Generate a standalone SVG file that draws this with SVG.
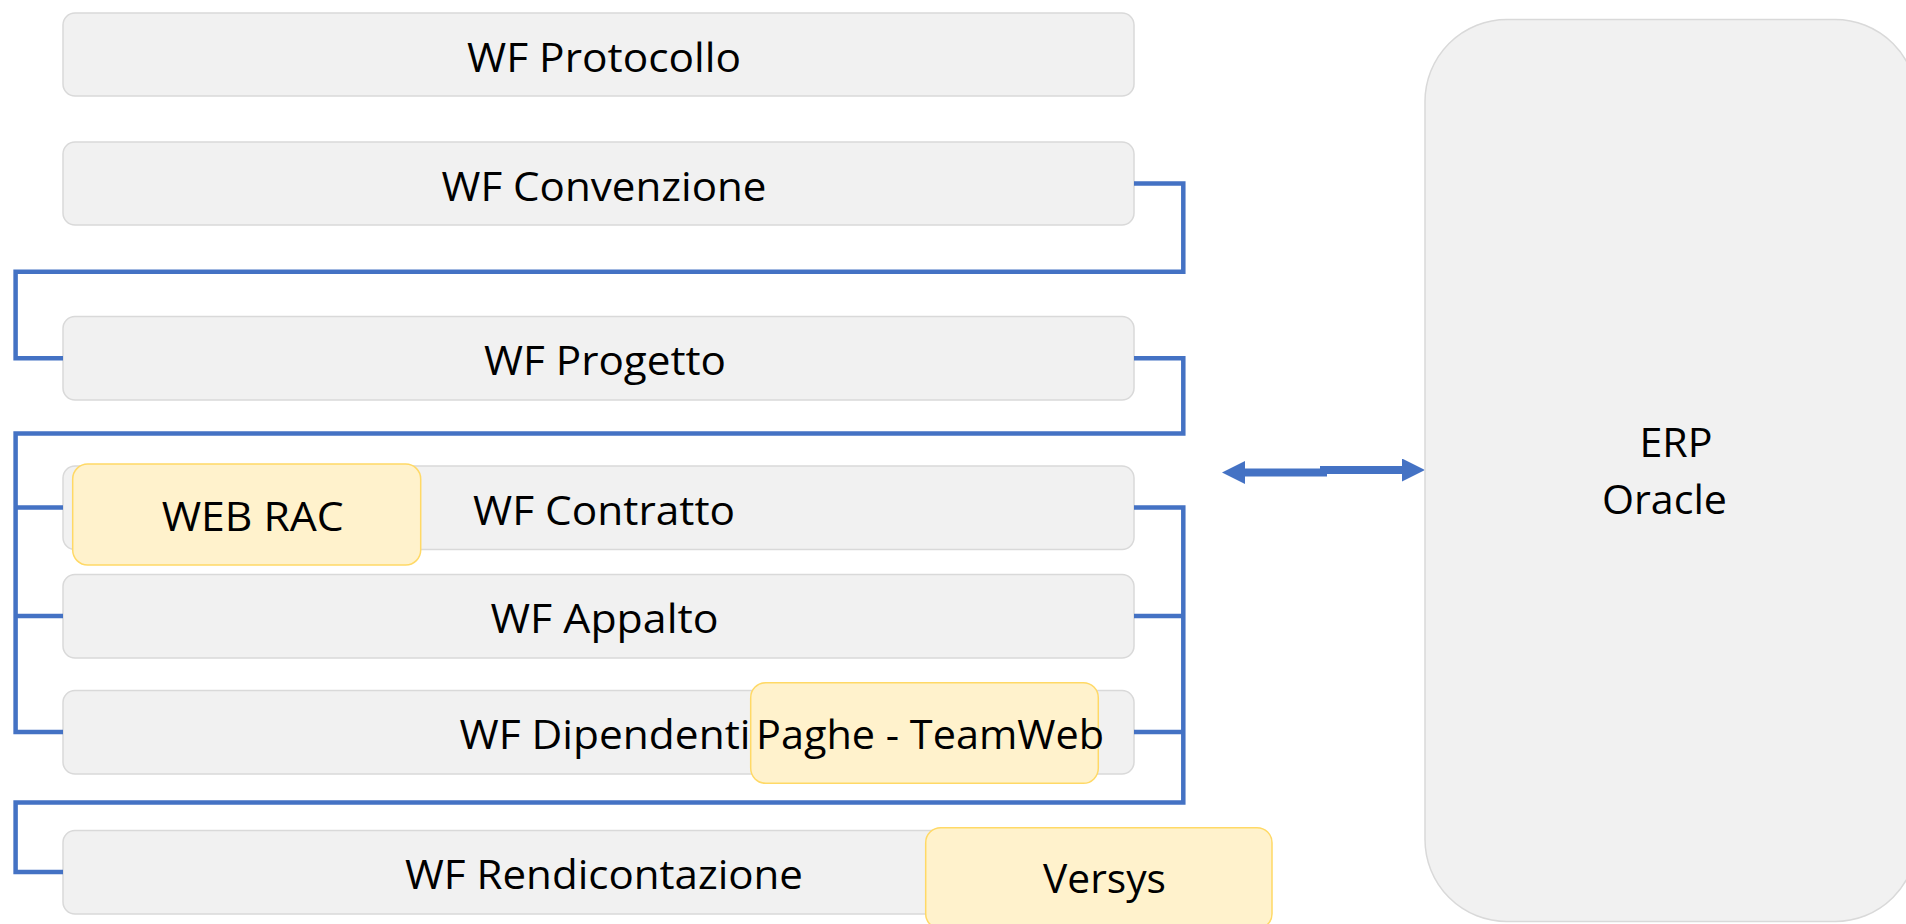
<svg xmlns="http://www.w3.org/2000/svg" width="1906" height="924" viewBox="0 0 1906 924">
  <style>
    .box { fill: #f1f1f1; stroke: #d9d9d9; stroke-width: 1.5; }
    .ybox { fill: #fff2cc; stroke: #ffd966; stroke-width: 1.5; }
    .lbl { font-family: "Open Sans", "Liberation Sans", sans-serif; font-size: 40px; fill: #000; text-anchor: middle; }
    .conn { fill: none; stroke: #4472c4; stroke-width: 4.5; stroke-linejoin: miter; }
    .arrow { fill: none; stroke: #4472c4; stroke-width: 8; }
  </style>
  <defs>
    <marker id="head" viewBox="0 0 23 23" refX="0" refY="11.5" markerWidth="23" markerHeight="23" markerUnits="userSpaceOnUse" orient="auto-start-reverse">
      <path d="M0,0 L23,11.5 L0,23 Z" fill="#4472c4"/>
    </marker>
  </defs>
  <rect width="1906" height="924" fill="#ffffff"/>

  <g id="wf-protocollo">
    <rect class="box" x="63" y="13" width="1071" height="83" rx="12"/>
    <text class="lbl" x="604" y="71.5" textLength="274" lengthAdjust="spacingAndGlyphs">WF Protocollo</text>
  </g>
  <g id="wf-convenzione">
    <rect class="box" x="63" y="142" width="1071" height="83" rx="12"/>
    <text class="lbl" x="604" y="201" textLength="325" lengthAdjust="spacingAndGlyphs">WF Convenzione</text>
  </g>
  <g id="wf-progetto">
    <rect class="box" x="63" y="316.5" width="1071" height="83.5" rx="12"/>
    <text class="lbl" x="605" y="375" textLength="242" lengthAdjust="spacingAndGlyphs">WF Progetto</text>
  </g>
  <g id="wf-contratto">
    <rect class="box" x="63" y="466" width="1071" height="83.5" rx="12"/>
    <text class="lbl" x="604" y="524.5" textLength="262" lengthAdjust="spacingAndGlyphs">WF Contratto</text>
  </g>
  <g id="wf-appalto">
    <rect class="box" x="63" y="574.5" width="1071" height="83.5" rx="12"/>
    <text class="lbl" x="604.5" y="633.3" textLength="228" lengthAdjust="spacingAndGlyphs">WF Appalto</text>
  </g>
  <g id="wf-dipendenti">
    <rect class="box" x="63" y="690.5" width="1071" height="83.5" rx="12"/>
    <text class="lbl" x="605" y="749.3" textLength="291" lengthAdjust="spacingAndGlyphs">WF Dipendenti</text>
  </g>
  <g id="wf-rendicontazione">
    <rect class="box" x="63" y="830.5" width="1071" height="83.5" rx="12"/>
    <text class="lbl" x="604" y="888.5" textLength="398" lengthAdjust="spacingAndGlyphs">WF Rendicontazione</text>
  </g>

  <g id="connectors">
    <path class="conn" d="M1134,183.5 H1183.3 V271.7 H15.6 V358.3 H63"/>
    <path class="conn" d="M1134,358.3 H1183.3 V433.5 H15.6 V732 H63 M15.6,507.5 H63 M15.6,616 H63"/>
    <path class="conn" d="M1134,507.5 H1183.3 V802.5 H15.6 V872 H63 M1134,616 H1183.3 M1134,732 H1183.3"/>
    <path class="arrow" d="M1245,472.5 H1327 M1320,470 H1402" marker-start="url(#head)" marker-end="url(#head)"/>
  </g>

  <g id="web-rac">
    <rect class="ybox" x="72.7" y="464" width="348" height="101" rx="15"/>
    <text class="lbl" x="252.7" y="531" textLength="182" lengthAdjust="spacingAndGlyphs">WEB RAC</text>
  </g>
  <g id="paghe-teamweb">
    <rect class="ybox" x="750.7" y="682.7" width="347.6" height="100.6" rx="15"/>
    <text class="lbl" x="930" y="749" textLength="348" lengthAdjust="spacingAndGlyphs">Paghe - TeamWeb</text>
  </g>
  <g id="versys">
    <rect class="ybox" x="925.7" y="827.7" width="346.3" height="101" rx="15"/>
    <text class="lbl" x="1104.5" y="893.3" textLength="123" lengthAdjust="spacingAndGlyphs">Versys</text>
  </g>

  <g id="erp-oracle">
    <rect class="box" x="1425" y="19.5" width="492" height="902" rx="82"/>
    <text class="lbl" x="1676" y="456.7" textLength="73" lengthAdjust="spacingAndGlyphs">ERP</text>
    <text class="lbl" x="1664.5" y="514" textLength="125" lengthAdjust="spacingAndGlyphs">Oracle</text>
  </g>
</svg>
